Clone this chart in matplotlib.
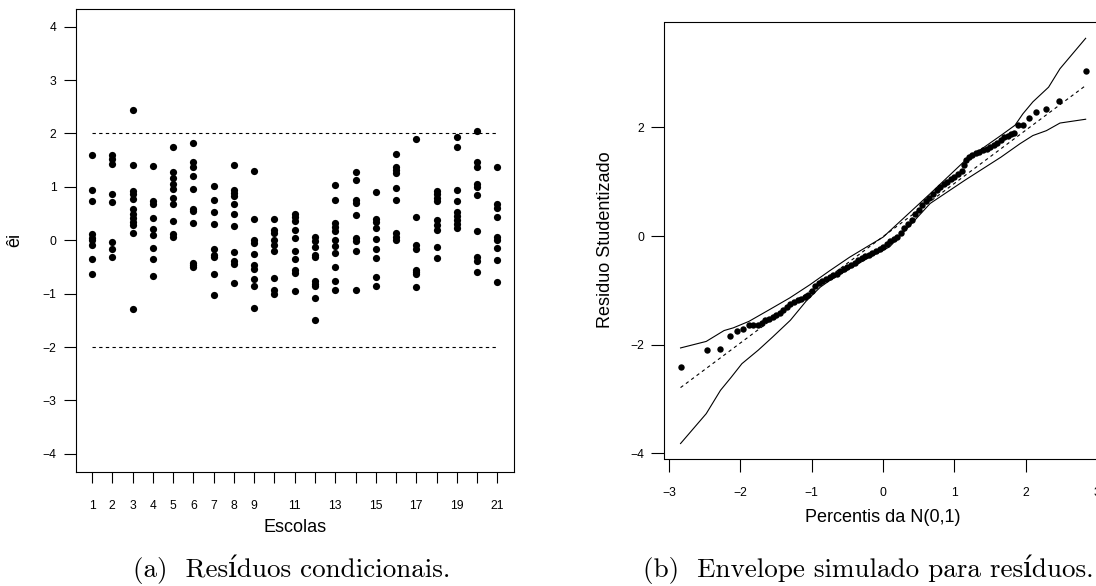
import numpy as np
import matplotlib.pyplot as plt

plt.rcParams['font.family'] = ['Liberation Sans', 'DejaVu Sans']

# (a) conditional residuals, one list per school (1..21)
escolas = list(range(1, 22))
residuos = [
    [1.59, 0.95, 0.73, 0.11, 0.05, 0.00, -0.09, -0.36, -0.63],
    [1.59, 1.53, 1.42, 0.86, 0.72, -0.04, -0.17, -0.32],
    [2.43, 1.41, 0.92, 0.86, 0.78, 0.58, 0.49, 0.41, 0.34, 0.28, 0.13, -1.28],
    [1.39, 0.73, 0.67, 0.42, 0.21, 0.09, -0.15, -0.36, -0.67],
    [1.74, 1.28, 1.16, 1.06, 0.96, 0.79, 0.67, 0.36, 0.11, 0.06],
    [1.83, 1.46, 1.38, 1.20, 0.96, 0.59, 0.54, 0.33, -0.43, -0.47, -0.51],
    [1.02, 0.76, 0.53, 0.30, -0.17, -0.28, -0.32, -0.63, -1.03],
    [1.41, 0.94, 0.88, 0.83, 0.68, 0.50, 0.26, -0.22, -0.39, -0.44, -0.81],
    [1.30, 0.39, 0.00, -0.06, -0.25, -0.46, -0.53, -0.73, -0.86, -1.26],
    [0.39, 0.19, 0.13, 0.01, -0.09, -0.20, -0.70, -0.94, -1.00],
    [0.50, 0.43, 0.36, 0.20, 0.04, -0.20, -0.36, -0.56, -0.61, -0.95],
    [0.06, -0.01, -0.13, -0.28, -0.32, -0.77, -0.82, -0.86, -1.09, -1.49],
    [1.04, 0.76, 0.32, 0.25, 0.17, 0.00, -0.11, -0.23, -0.50, -0.76, -0.94],
    [1.27, 1.13, 0.75, 0.69, 0.48, 0.05, -0.01, -0.21, -0.93],
    [0.91, 0.39, 0.34, 0.23, 0.03, -0.16, -0.34, -0.68, -0.86],
    [1.61, 1.38, 1.31, 1.26, 0.97, 0.75, 0.13, 0.06, 0.00],
    [1.90, 0.43, -0.09, -0.17, -0.55, -0.59, -0.64, -0.88],
    [0.92, 0.86, 0.80, 0.73, 0.38, 0.28, 0.20, -0.13, -0.33],
    [1.94, 1.74, 0.95, 0.73, 0.53, 0.45, 0.38, 0.30, 0.22],
    [2.05, 1.46, 1.38, 1.06, 1.00, 0.84, 0.17, -0.32, -0.38, -0.60],
    [1.38, 0.67, 0.61, 0.43, 0.06, 0.00, -0.14, -0.37, -0.78],
]
limites = [-2, 2]

# (b) simulated envelope: sorted studentized residuals vs N(0,1) percentiles
qq_x = [-2.84, -2.47, -2.28, -2.15, -2.05, -1.96, -1.88, -1.82, -1.76, -1.70,
        -1.65, -1.60, -1.55, -1.50, -1.45, -1.40, -1.35, -1.30, -1.25, -1.20,
        -1.15, -1.10, -1.05, -1.00, -0.95, -0.90, -0.85, -0.80, -0.75, -0.70,
        -0.65, -0.60, -0.55, -0.50, -0.45, -0.40, -0.35, -0.30, -0.25, -0.20,
        -0.15, -0.10, -0.05, 0.00, 0.05, 0.10, 0.15, 0.20, 0.25, 0.30,
        0.35, 0.40, 0.45, 0.50, 0.55, 0.60, 0.65, 0.70, 0.75, 0.80,
        0.85, 0.90, 0.95, 1.00, 1.05, 1.10, 1.13, 1.16, 1.20, 1.25,
        1.30, 1.35, 1.40, 1.45, 1.50, 1.55, 1.60, 1.65, 1.70, 1.75,
        1.80, 1.84, 1.89, 1.96, 2.05, 2.15, 2.28, 2.46, 2.84]
qq_y = [-2.42, -2.10, -2.08, -1.84, -1.75, -1.71, -1.63, -1.63, -1.63, -1.60,
        -1.55, -1.52, -1.49, -1.45, -1.41, -1.37, -1.31, -1.26, -1.21, -1.18,
        -1.15, -1.12, -1.08, -1.02, -0.92, -0.86, -0.82, -0.79, -0.75, -0.72,
        -0.69, -0.65, -0.61, -0.57, -0.53, -0.49, -0.45, -0.41, -0.37, -0.34,
        -0.31, -0.28, -0.24, -0.20, -0.15, -0.10, -0.06, -0.01, 0.06, 0.14,
        0.22, 0.30, 0.40, 0.48, 0.58, 0.64, 0.70, 0.78, 0.84, 0.90,
        0.96, 1.00, 1.05, 1.09, 1.14, 1.20, 1.30, 1.40, 1.45, 1.49,
        1.52, 1.54, 1.58, 1.61, 1.64, 1.67, 1.72, 1.77, 1.82, 1.85,
        1.87, 1.89, 2.04, 2.05, 2.17, 2.28, 2.34, 2.48, 3.04]

sup_x = [-2.84, -2.48, -2.23, -2.10, -1.88, -1.60, -1.31, -1.03, -0.75, -0.47,
         -0.23, 0.00, 0.28, 0.66, 1.15, 1.65, 1.85, 1.96, 2.10, 2.32, 2.48, 2.84]
sup_y = [-2.06, -1.94, -1.74, -1.69, -1.57, -1.36, -1.14, -0.90, -0.64, -0.39,
         -0.20, -0.02, 0.32, 0.78, 1.39, 1.85, 2.04, 2.25, 2.47, 2.74, 3.08, 3.64]

inf_x = [-2.84, -2.48, -2.28, -2.13, -1.98, -1.75, -1.55, -1.30, -1.08, -0.88,
         -0.75, -0.47, -0.19, 0.09, 0.38, 0.66, 1.15, 1.65, 1.92, 2.10, 2.29,
         2.48, 2.84]
inf_y = [-3.82, -3.27, -2.84, -2.60, -2.35, -2.10, -1.86, -1.55, -1.20, -0.94,
         -0.82, -0.60, -0.39, -0.20, 0.20, 0.60, 1.03, 1.45, 1.70, 1.85, 1.94,
         2.08, 2.15]

med_x = [-2.84, 2.84]
med_y = [-2.79, 2.77]

cap_font = dict(family=['cmr10', 'DejaVu Serif'], fontsize=19.5, ha='center', va='center')

fig = plt.figure(figsize=(10.96, 5.86), dpi=100)

# ---- (a) ----
ax1 = fig.add_axes([76 / 1096, 1 - 472 / 586, 438 / 1096, 463 / 586])
for e, r in zip(escolas, residuos):
    ax1.plot([e] * len(r), r, 'o', color='black', markersize=5.2, markeredgewidth=0)
ax1.hlines(limites, escolas[0], escolas[-1], colors='black', linestyles=(0, (3, 3)), linewidth=0.8)
ax1.set_xlim(0.21, 21.82)
ax1.set_ylim(-4.34, 4.33)
ax1.set_xticks(escolas)
ax1.set_xticklabels([str(e) if (e <= 9 or e % 2 == 1) else '' for e in escolas])
ax1.set_yticks(range(-4, 5))
ax1.tick_params(axis='x', length=8, width=0.8, pad=12, labelsize=8.7)
ax1.tick_params(axis='y', length=9, width=0.8, pad=5, labelsize=8.7)
for s in ax1.spines.values():
    s.set_linewidth(0.8)
fig.text(15 / 1096, 1 - 240 / 586, 'êi', rotation=90, ha='center', va='center', fontsize=13)
fig.text(295 / 1096, 1 - 528 / 586, 'Escolas', ha='center', va='center', fontsize=13)
fig.text(292 / 1096, 1 - 569 / 586, '(a)  Resíduos condicionais.', **cap_font)

# ---- (b) ----
ax2 = fig.add_axes([664.5 / 1096, 1 - 459.3 / 586, 437.2 / 1096, 437.3 / 586])
ax2.plot(sup_x, sup_y, color='black', linewidth=0.8)
ax2.plot(inf_x, inf_y, color='black', linewidth=0.8)
ax2.plot(med_x, med_y, color='black', linewidth=0.8, linestyle=(0, (3, 3)))
ax2.plot(qq_x, qq_y, 'o', color='black', markersize=4.6, markeredgewidth=0)
ax2.set_xlim(-3.065, 3.065)
ax2.set_ylim(-4.11, 3.94)
ax2.set_xticks(range(-3, 4))
ax2.set_yticks([-4, -2, 0, 2])
ax2.tick_params(axis='x', length=9, width=0.8, pad=11, labelsize=8.7)
ax2.tick_params(axis='y', length=9.5, width=0.8, pad=5, labelsize=8.7)
for s in ax2.spines.values():
    s.set_linewidth(0.8)
fig.text(605 / 1096, 1 - 240 / 586, 'Residuo Studentizado', rotation=90, ha='center', va='center', fontsize=13)
fig.text(883 / 1096, 1 - 517 / 586, 'Percentis da N(0,1)', ha='center', va='center', fontsize=13)
fig.text(868 / 1096, 1 - 569 / 586, '(b)  Envelope simulado para resíduos.', **cap_font)

fig.savefig('out.png', dpi=100)
